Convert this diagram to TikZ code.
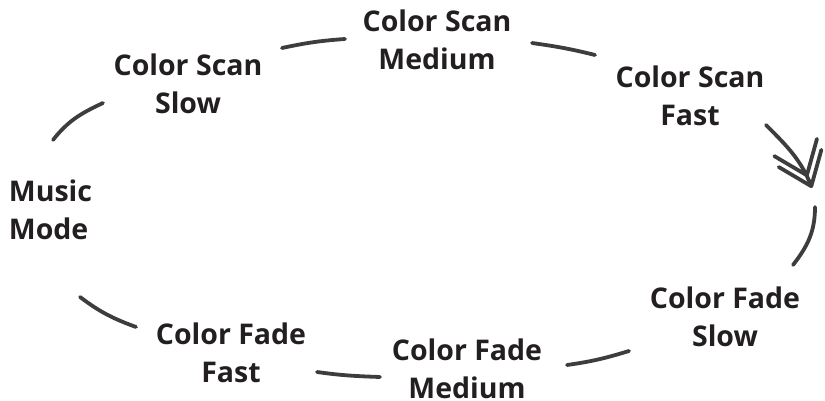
\documentclass[tikz,border=0pt]{standalone}
\usepackage{fontspec}
\setmainfont{Open Sans}
\usetikzlibrary{arrows.meta}
\definecolor{inkline}{HTML}{3D3D3D}
\definecolor{inktext}{HTML}{231F20}

\begin{document}
\begin{tikzpicture}
  [x=1pt,y=1pt,
   every node/.style={inner sep=0pt,align=center,text=inktext,
     font=\fontsize{28.5}{38}\selectfont\bfseries},
   link/.style={draw=inkline,line width=3.8pt,line cap=round},
   twotips/.style={-{Straight Barb[round,length=30pt,width=46pt,sep=-22pt]
                     Straight Barb[round,length=30pt,width=46pt]}}]
\useasboundingbox (0,0) rectangle (825,401);

\node [align=left] (music) at (50.5,191.5) {Music\\Mode};
\node (scanslow) at (188,317) {Color Scan\\Slow};
\node (scanmed)  at (437,361) {Color Scan\\Medium};
\node (scanfast) at (690,305) {Color Scan\\Fast};
\node (fadeslow) at (725,84)  {Color Fade\\Slow};
\node (fademed)  at (467,32)  {Color Fade\\Medium};
\node (fadefast) at (231,48)  {Color Fade\\Fast};

% free ends of the arcs round the loop
\coordinate (out1) at (53,261);  \coordinate (in1) at (103,298);
\coordinate (out2) at (282,353); \coordinate (in2) at (345,362);
\coordinate (out3) at (532,358); \coordinate (in3) at (595,346);
\coordinate (out4) at (766,276); \coordinate (in4) at (812,213);
\coordinate (out5) at (815,194); \coordinate (in5) at (793,136);
\coordinate (out6) at (629,50);  \coordinate (in6) at (567,36);
\coordinate (out7) at (380,24);  \coordinate (in7) at (317,29);
\coordinate (out8) at (136,74);  \coordinate (in8) at (80,104);

\draw [link] (out1) to [out=52,in=205]  (in1);
\draw [link] (out2) to [out=12,in=184]  (in2);
\draw [link] (out3) to [out=-8,in=166]  (in3);
\draw [link,twotips] (out4) to [out=-45,in=112] (in4);
\draw [link] (out5) to [out=-90,in=52]  (in5);
\draw [link] (out6) to [out=197,in=8]   (in6);
\draw [link] (out7) to [out=178,in=-8]  (in7);
\draw [link] (out8) to [out=160,in=-37] (in8);
\end{tikzpicture}
\end{document}
